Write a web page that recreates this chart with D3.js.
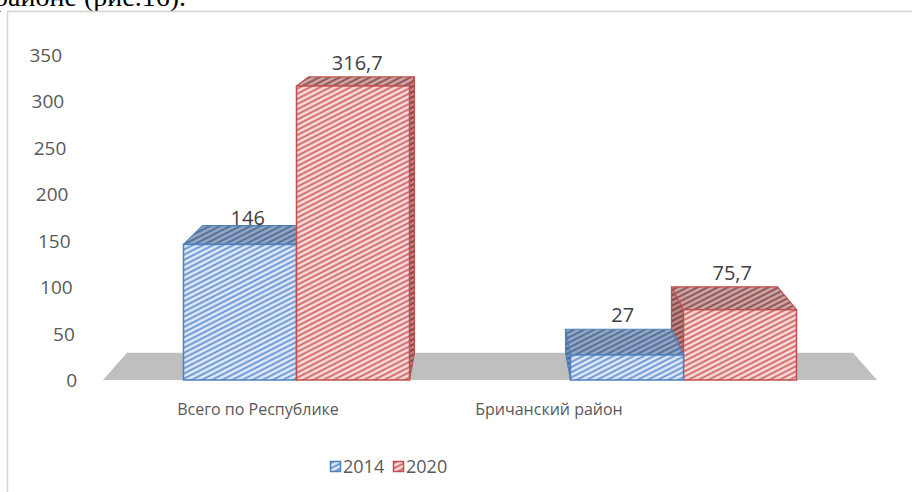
<!DOCTYPE html>
<html>
<head>
<meta charset="utf-8">
<script src="https://cdn.jsdelivr.net/npm/d3@7"></script>
<style>
  body { margin: 0; background: #fff; }
  svg { display: block; font-family: "Open Sans", sans-serif; }
</style>
</head>
<body>
<svg id="chart" width="912" height="492"></svg>
<script>
// data
const categories = ["Всего по Республике", "Бричанский район"];
const seriesNames = ["2014", "2020"];
const values2014 = [146, 27];
const values2020 = [316.7, 75.7];
const valueLabels2014 = ["146", "27"];
const valueLabels2020 = ["316,7", "75,7"];
const yTicks = [0, 50, 100, 150, 200, 250, 300, 350];

const svg = d3.select("#chart");

// page text above the chart (cut off by the edge of the picture)
svg.append("text")
  .attr("x", 186).attr("y", 6)
  .attr("text-anchor", "end")
  .style("font-family", "'Liberation Serif', 'Times New Roman', serif")
  .style("font-size", "28px")
  .attr("fill", "#000")
  .text("районе (рис.16).");

// chart frame
svg.append("rect")
  .attr("x", 7.5).attr("y", 11.5)
  .attr("width", 1000).attr("height", 600)
  .attr("fill", "#fff")
  .attr("stroke", "#d4d4d4")
  .attr("stroke-width", 1.5);

// scales (front plane)
const x0 = d3.scaleBand().domain(categories).range([103, 877])
  .paddingInner(0.416).paddingOuter(0.208);
const x1 = d3.scaleBand().domain(seriesNames).range([0, x0.bandwidth()]);
const y = d3.scaleLinear().domain([0, 350]).range([380, 55]);
// tick labels lean a little, like the perspective axis
const tickRight = d3.scaleLinear().domain([0, 350]).range([77, 62]);
const catLabelX = d3.scalePoint().domain(categories).range([258, 549]);

// perspective: back plane is the front plane shrunk toward V
const V = [(x0.range()[0] + x0.range()[1]) / 2, -59];
const k = 0.938;
const proj = (px, py, d) => [V[0] + (px - V[0]) * (1 - d * (1 - k)),
                             V[1] + (py - V[1]) * (1 - d * (1 - k))];

// hatch patterns
const defs = svg.append("defs");
function hatch(id, bg, fg, w) {
  const p = defs.append("pattern")
    .attr("id", id)
    .attr("patternUnits", "userSpaceOnUse")
    .attr("width", 8).attr("height", 4.6)
    .attr("patternTransform", "rotate(-27)");
  p.append("rect").attr("width", 8).attr("height", 4.6).attr("fill", bg);
  p.append("line").attr("x1", 0).attr("x2", 8).attr("y1", 2.3).attr("y2", 2.3)
    .attr("stroke", fg).attr("stroke-width", w);
}
hatch("blueFront", "#dfe9f7", "#5b8bd0", 1.7);
hatch("blueTop", "#98a9c4", "#4b6a98", 1.9);
hatch("blueSide", "#8098bc", "#3f5f8f", 1.9);
hatch("redFront", "#f8dcdc", "#cc5a58", 1.7);
hatch("redTop", "#cbabab", "#8e4a4b", 1.9);
hatch("redSide", "#bf8c8c", "#7e3e3e", 1.9);

const style = {
  "2014": { front: "url(#blueFront)", top: "url(#blueTop)", side: "url(#blueSide)", stroke: "#4f81bd" },
  "2020": { front: "url(#redFront)", top: "url(#redTop)", side: "url(#redSide)", stroke: "#c0504d" }
};

// floor
const fl = x0.range()[0], fr = x0.range()[1], fy = y(0);
svg.append("polygon")
  .attr("points", [proj(fl, fy, 0), proj(fr, fy, 0), proj(fr, fy, 1), proj(fl, fy, 1)].join(" "))
  .attr("fill", "#bfbfbf");

// y axis labels
svg.append("g").selectAll("text")
  .data(yTicks).join("text")
  .attr("x", d => tickRight(d))
  .attr("y", d => y(d) + 7)
  .attr("text-anchor", "end")
  .style("font-size", "19px")
  .attr("fill", "#595959")
  .text(d => d);

// bars
const bars = [];
categories.forEach((c, i) => {
  [[seriesNames[0], values2014[i], valueLabels2014[i]],
   [seriesNames[1], values2020[i], valueLabels2020[i]]].forEach(([s, v, lbl]) => {
    const xa = x0(c) + x1(s), xb = xa + x1.bandwidth();
    bars.push({ c, s, v, lbl, xa, xb, yt: y(v), yb: y(0) });
  });
});
// paint the bars farthest from the vanishing point first
bars.sort((a, b) => Math.abs((b.xa + b.xb) / 2 - V[0]) - Math.abs((a.xa + a.xb) / 2 - V[0]));

const gBars = svg.append("g");
bars.forEach(b => {
  const st = style[b.s];
  const g = gBars.append("g");
  const sideX = (b.xa + b.xb) / 2 < V[0] ? b.xb : b.xa;
  g.append("polygon")
    .attr("points", [proj(sideX, b.yt, 0), proj(sideX, b.yt, 1), proj(sideX, b.yb, 1), proj(sideX, b.yb, 0)].join(" "))
    .attr("fill", st.side).attr("stroke", st.stroke).attr("stroke-width", 1.2)
    .attr("stroke-linejoin", "round");
  g.append("polygon")
    .attr("points", [proj(b.xa, b.yt, 0), proj(b.xb, b.yt, 0), proj(b.xb, b.yt, 1), proj(b.xa, b.yt, 1)].join(" "))
    .attr("fill", st.top).attr("stroke", st.stroke).attr("stroke-width", 1.2)
    .attr("stroke-linejoin", "round");
  g.append("rect")
    .attr("x", b.xa).attr("y", b.yt)
    .attr("width", b.xb - b.xa).attr("height", b.yb - b.yt)
    .attr("fill", st.front).attr("stroke", st.stroke).attr("stroke-width", 1.5);
});

// value labels above the top faces
svg.append("g").selectAll("text")
  .data(bars).join("text")
  .attr("x", d => (proj((d.xa + d.xb) / 2, d.yt, 0)[0] + proj((d.xa + d.xb) / 2, d.yt, 1)[0]) / 2)
  .attr("y", d => proj(d.xa, d.yt, 1)[1] - (d.v > 100 && d.v < 200 ? 1 : 7))
  .attr("text-anchor", "middle")
  .style("font-size", "20px")
  .attr("fill", "#404040")
  .text(d => d.lbl);

// category labels
svg.append("g").selectAll("text")
  .data(categories).join("text")
  .attr("x", d => catLabelX(d))
  .attr("y", 415)
  .attr("text-anchor", "middle")
  .style("font-size", "16px")
  .attr("fill", "#595959")
  .text(d => d);

// legend
const legend = svg.append("g").attr("transform", "translate(330,461)");
const lx = d3.scalePoint().domain(seriesNames).range([0, 63]);
seriesNames.forEach(s => {
  const g = legend.append("g").attr("transform", `translate(${lx(s)},0)`);
  g.append("rect").attr("x", 0.5).attr("y", 0.5).attr("width", 10).attr("height", 10)
    .attr("fill", style[s].front).attr("stroke", style[s].stroke).attr("stroke-width", 1.5);
  g.append("text").attr("x", 13).attr("y", 12)
    .style("font-size", "18px").attr("fill", "#595959").text(s);
});
</script>
</body>
</html>
